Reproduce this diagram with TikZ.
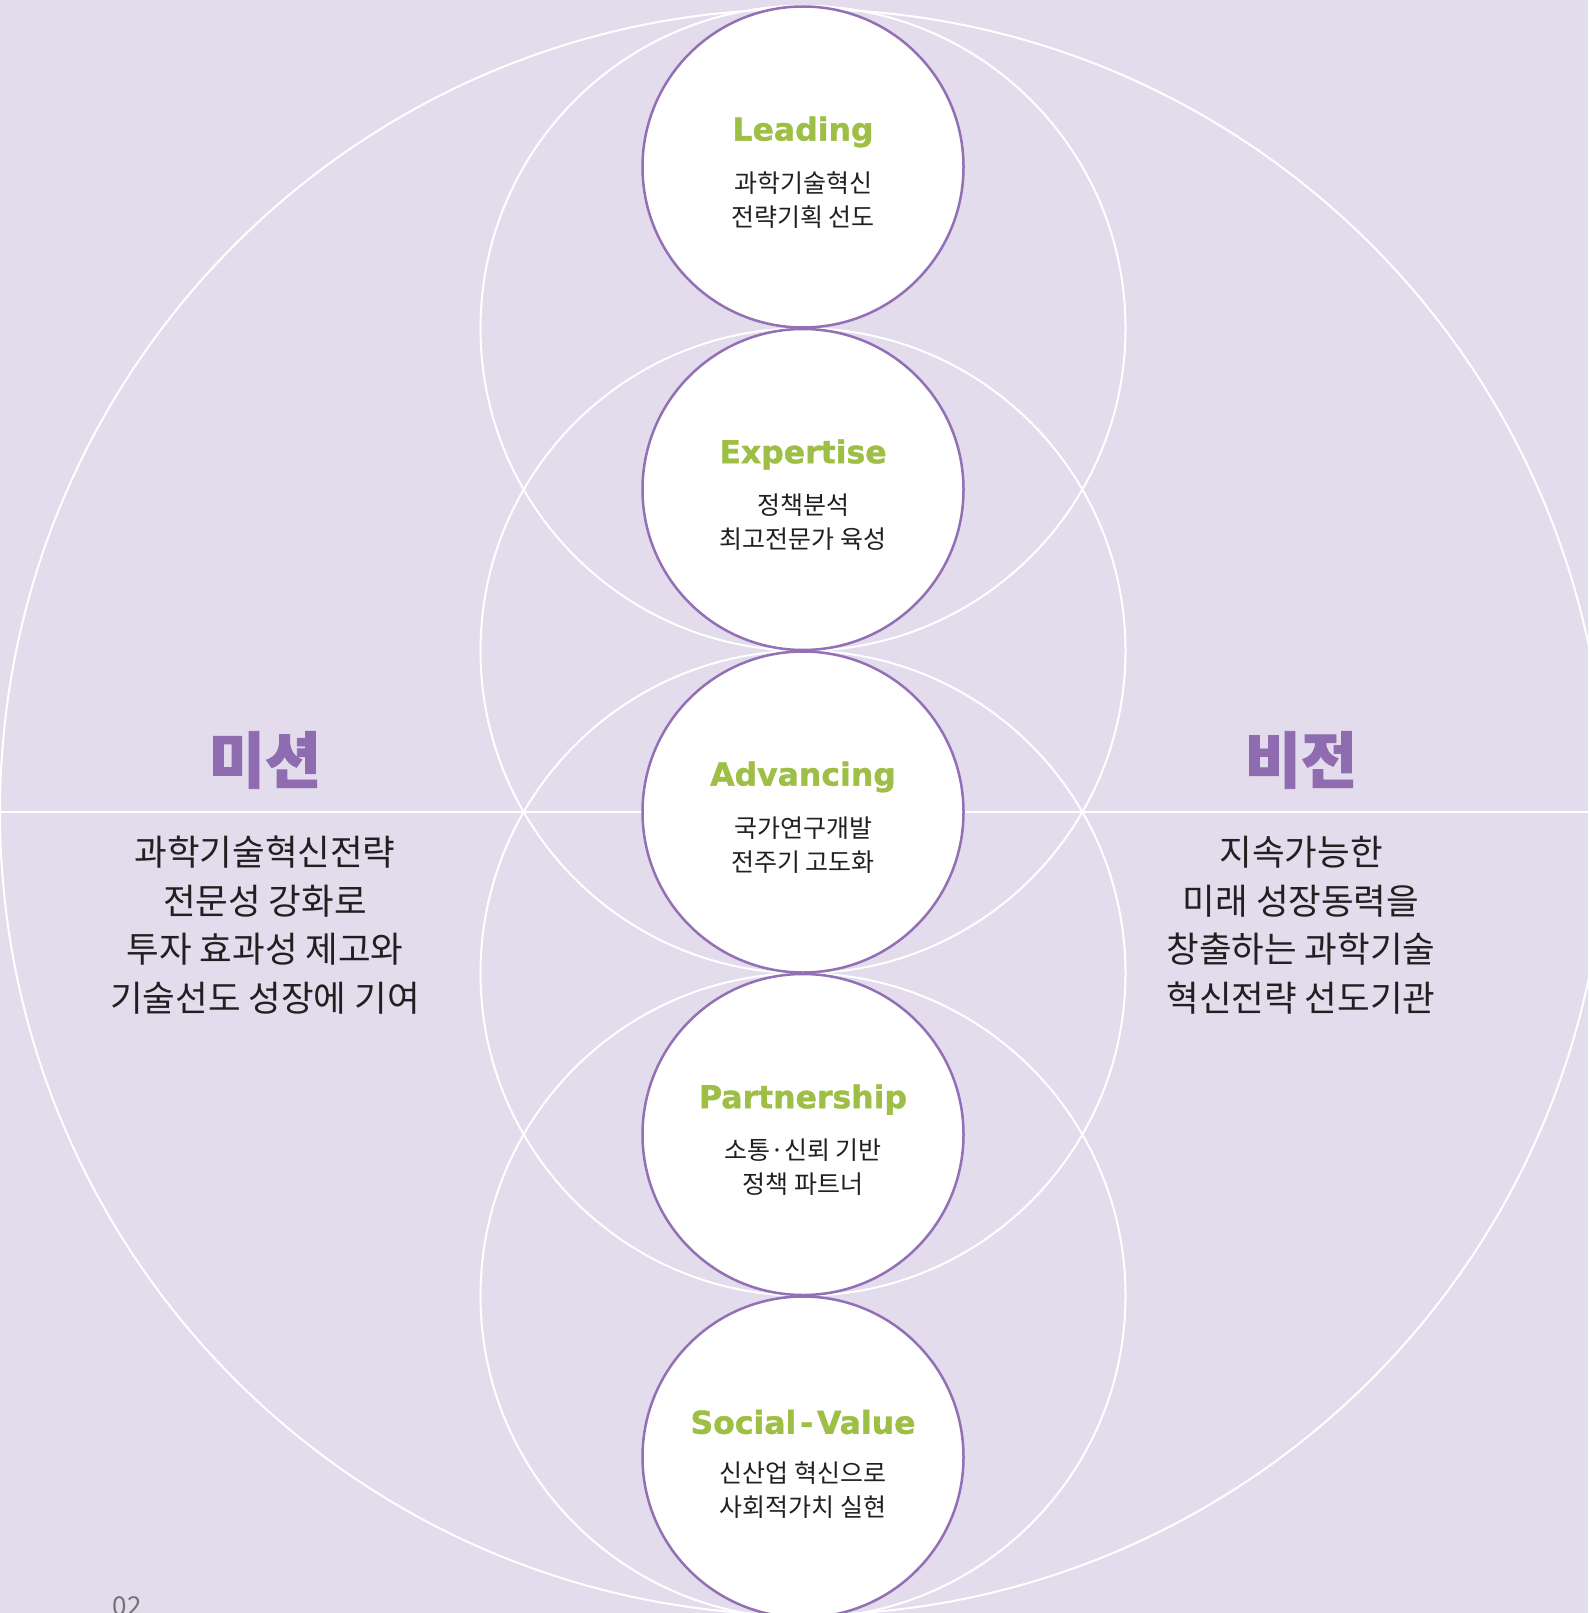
\documentclass[tikz,border=0pt]{standalone}
\usepackage{fontspec}
\setmainfont{Noto Sans CJK KR}
\newfontfamily\engfont{DejaVu Sans}[BoldFeatures={FakeBold=1.2}]
\newfontfamily\ktitle{Noto Sans CJK KR}[BoldFeatures={FakeBold=1.5}]
\definecolor{bgc}{HTML}{E2DCEC}
\definecolor{purp}{HTML}{9370B6}
\definecolor{titlep}{HTML}{8F6BB0}
\definecolor{grn}{HTML}{9DBF45}
\definecolor{txt}{HTML}{231F20}
\tikzset{
  guide/.style={draw=white, line width=2pt},
  valuecircle/.style={circle, draw=purp, line width=2.5pt, fill=white, minimum size=321pt, inner sep=0pt},
  valuename/.style={inner sep=0pt, text=grn, font=\engfont\bfseries\fontsize{31.5}{34}\selectfont},
  valuetext/.style={inner sep=0pt, align=center, text=txt, font=\fontsize{25}{34}\selectfont},
  headtitle/.style={inner sep=0pt, text=titlep, font=\ktitle\bfseries\fontsize{61}{64}\selectfont},
  headtext/.style={inner sep=0pt, align=center, text=txt, font=\fontsize{35.5}{48.5}\selectfont}
}
\begin{document}
\begin{tikzpicture}[x=1pt,y=-1pt]
\fill[bgc] (0,0) rectangle (1588,1613);
\useasboundingbox (0,0) rectangle (1588,1613);
\begin{scope}
\clip (0,0) rectangle (1588,1613);
\draw[guide] (803,812) circle[radius=803];
\draw[guide] (0,812) -- (1588,812);
\foreach \cy in {328.25,650.75,973.25,1295.75}{
  \draw[guide] (803,\cy) circle[radius=322.5];
}
\end{scope}
\node[valuecircle] (c1) at (803,167) {};
\node[valuecircle] (c2) at (803,489.5) {};
\node[valuecircle] (c3) at (803,812) {};
\node[valuecircle] (c4) at (803,1134.5) {};
\node[valuecircle] (c5) at (803,1457) {};

\node[valuename] (n1) at ([yshift=35pt]c1.center) {Leading};
\node[valuetext] (t1) at ([yshift=-33pt]c1.center) {과학기술혁신\\전략기획 선도};
\node[valuename] (n2) at ([yshift=35pt]c2.center) {Expertise};
\node[valuetext] (t2) at ([yshift=-33pt]c2.center) {정책분석\\최고전문가 육성};
\node[valuename] (n3) at ([yshift=35pt]c3.center) {Advancing};
\node[valuetext] (t3) at ([yshift=-33pt]c3.center) {국가연구개발\\전주기 고도화};
\node[valuename] (n4) at ([yshift=35pt]c4.center) {Partnership};
\node[valuetext] (t4) at ([yshift=-33pt]c4.center) {소통·신뢰 기반\\정책 파트너};
\node[valuename] (n5) at ([yshift=35pt]c5.center) {Social\kern0.12em-\kern0.12emValue};
\node[valuetext] (t5) at ([yshift=-33pt]c5.center) {신산업 혁신으로\\사회적가치 실현};

\node[headtitle] (mt) at (265,760) {미션};
\node[headtext] (mb) at (265,925) {과학기술혁신전략\\전문성 강화로\\투자 효과성 제고와\\기술선도 성장에 기여};
\node[headtitle] (vt) at (1301,760) {비전};
\node[headtext] (vb) at (1301,925) {지속가능한\\미래 성장동력을\\창출하는 과학기술\\혁신전략 선도기관};

\node[anchor=north, inner sep=0pt, text=black!55, font=\fontsize{26}{26}\selectfont] (pg) at (127,1596) {02};
\end{tikzpicture}
\end{document}
